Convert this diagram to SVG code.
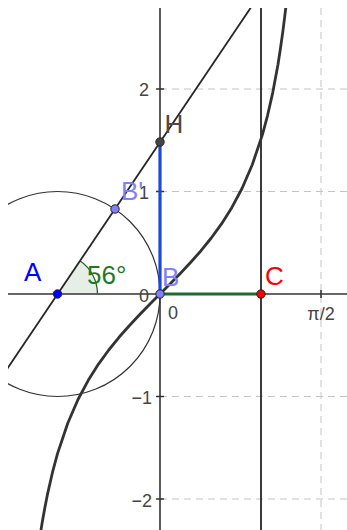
<svg xmlns="http://www.w3.org/2000/svg" width="347" height="530" viewBox="0 0 347 530">
<style>
.grid{stroke:#c4c4c4;stroke-width:1;stroke-dasharray:7,5;fill:none}
.axis{stroke:#333;stroke-width:1.6;fill:none}
.ln{stroke:#262626;stroke-width:1.8;fill:none}
.circ{stroke:#333;stroke-width:1.2;fill:none}
.curve{stroke:#333;stroke-width:2.8;fill:none;stroke-linejoin:round}
.tick{font-family:"Liberation Sans",Arial,sans-serif;font-size:18px;fill:#444}
.lbl{font-family:"Liberation Sans",Arial,sans-serif;font-size:26px}
.pt{stroke:#222;stroke-width:1}
</style>
<defs>
<clipPath id="view"><rect x="8" y="8" width="339" height="522"/></clipPath>
</defs>
<rect width="347" height="530" fill="#fff"/>
<g id="grid" clip-path="url(#view)">
<line class="grid" x1="160" y1="89" x2="347" y2="89"/>
<line class="grid" x1="160" y1="191.5" x2="347" y2="191.5"/>
<line class="grid" x1="160" y1="396.5" x2="347" y2="396.5"/>
<line class="grid" x1="160" y1="499" x2="347" y2="499"/>
<line class="grid" x1="321" y1="8" x2="321" y2="530"/>
</g>
<g id="axes" clip-path="url(#view)">
<line class="axis" x1="8" y1="294" x2="347" y2="294"/>
<line class="axis" x1="160" y1="8" x2="160" y2="530"/>
<path class="axis" stroke-width="1.2" d="M156,89H164M156,191.5H164M156,396.5H164M156,499H164M321,290V298"/>
</g>
<g id="tick-labels" class="tick">
<text x="149" y="96" text-anchor="end">2</text>
<text x="149" y="198.5" text-anchor="end">1</text>
<text x="149" y="301.5" text-anchor="end">0</text>
<text x="152" y="403.5" text-anchor="end">−1</text>
<text x="152" y="506.5" text-anchor="end">−2</text>
<text x="168" y="318.5">0</text>
<text x="321" y="320" text-anchor="middle">π/2</text>
</g>
<g id="connectors" clip-path="url(#view)">
<circle class="circ" cx="57.5" cy="294" r="102.5"/>
<path id="angle-56" d="M57.5,294 L97.5,294 A40,40 0 0 0 79.9,260.8 Z" fill="#006400" fill-opacity="0.1" stroke="none"/>
<path d="M97.5,294 A40,40 0 0 0 79.9,260.8" fill="none" stroke="#1e6b1e" stroke-width="1.3"/>
<line class="ln" x1="-10" y1="394.3" x2="255" y2="1.4"/>
<line class="ln" x1="261" y1="8" x2="261" y2="530"/>
<polyline class="curve" points="40.1,535.9 42.1,523 44.7,508.4 47.25,495.4 52.4,472.7 57.5,453.6 67.75,423.2 78,399.5 88.25,380.3 98.5,364.1 108.75,350 119,337.3 129.25,325.7 139.5,314.8 149.75,304.3 160,294 170.25,283.7 180.5,273.2 190.75,262.3 201,250.7 211.25,238 221.5,223.9 231.75,207.7 242,188.5 252.25,164.8 262.5,134.4 267.6,115.3 272.75,92.6 277.9,65 280.4,48.7 283,30.4 284.5,18.3 286.1,5"/>
<line id="seg-BH" x1="160" y1="294" x2="160" y2="142" stroke="#1a48dc" stroke-width="3.2"/>
<line id="seg-BC" x1="160" y1="294" x2="261" y2="294" stroke="#1f6a30" stroke-width="3.2"/>
</g>
<g id="node-A">
<circle class="pt" cx="57.5" cy="294" r="4.2" fill="#0000ff" stroke="#00008b"/>
<text class="lbl" x="24" y="281" fill="#0000ff">A</text>
</g>
<g id="node-angle">
<text class="lbl" x="87" y="283.5" fill="#1e7a1e">56°</text>
</g>
<g id="node-Bprime">
<circle class="pt" cx="115" cy="209" r="4.2" fill="#7f7fff" stroke="#444"/>
<text class="lbl" x="121" y="200" fill="#7f7fff">B'</text>
</g>
<g id="node-B">
<circle class="pt" cx="160" cy="294" r="4.2" fill="#7f7fff" stroke="#444"/>
<text class="lbl" x="162" y="285.5" fill="#7f7fff">B</text>
</g>
<g id="node-H">
<circle class="pt" cx="160" cy="142" r="4.2" fill="#444" stroke="#222"/>
<text class="lbl" x="164.5" y="133" fill="#4a4a4a" font-size="27">H</text>
</g>
<g id="node-C">
<circle class="pt" cx="261" cy="294" r="4.2" fill="#ff0000" stroke="#8b0000"/>
<text class="lbl" x="265" y="284.5" fill="#ff0000">C</text>
</g>
</svg>
